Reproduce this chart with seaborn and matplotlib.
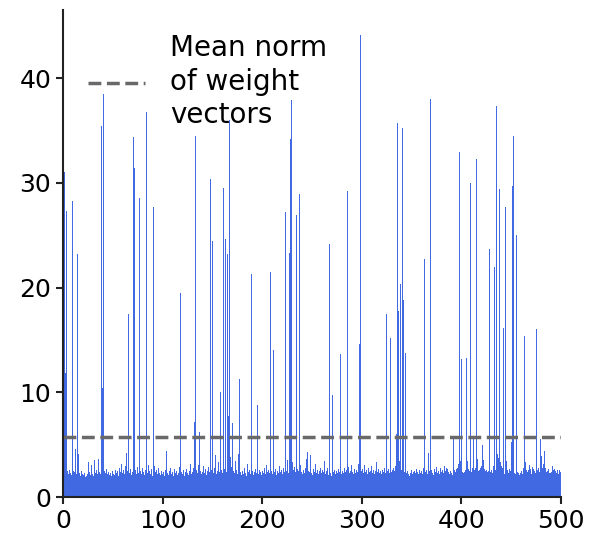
import numpy as np
import seaborn as sns
import matplotlib
matplotlib.use('Agg')
import matplotlib.pyplot as plt

# norm of each weight vector (500 units)
norms = [
    2.4, 31.0, 11.8, 27.3, 2.5, 2.2, 2.6, 2.3, 2.1, 28.3, 2.5, 2.4, 4.6, 2.2, 23.2, 4.1, 2.3, 2.0, 2.5, 2.2,
    2.1, 2.3, 1.9, 2.0, 2.2, 3.3, 2.4, 2.1, 3.1, 2.2, 2.0, 3.5, 2.3, 2.6, 2.2, 3.6, 2.4, 2.2, 35.4, 10.4,
    38.5, 2.5, 2.3, 2.7, 2.2, 2.4, 2.1, 2.3, 2.0, 2.5, 2.2, 2.1, 2.6, 2.3, 2.5, 2.0, 2.8, 2.4, 3.2, 2.3,
    2.6, 2.2, 3.0, 4.2, 2.5, 17.5, 2.3, 2.7, 2.1, 2.4, 34.4, 31.4, 2.6, 2.2, 2.9, 2.3, 28.6, 2.5, 2.2, 2.8,
    2.4, 2.1, 2.6, 36.8, 2.3, 3.1, 2.5, 2.2, 2.7, 2.0, 27.7, 3.0, 2.4, 2.6, 2.2, 2.8, 2.3, 2.1, 2.5, 2.2,
    2.4, 2.0, 2.6, 4.4, 2.3, 2.1, 2.5, 2.8, 2.2, 2.4, 2.0, 2.7, 2.3, 2.5, 2.1, 2.6, 2.3, 2.9, 19.5, 2.4,
    2.2, 2.6, 2.0, 2.4, 2.7, 2.3, 2.1, 2.5, 3.2, 2.2, 2.4, 2.8, 7.2, 34.5, 2.6, 2.3, 3.1, 6.2, 2.5, 2.2,
    2.4, 3.0, 2.3, 2.7, 2.1, 2.5, 2.9, 2.4, 30.4, 2.6, 24.5, 2.3, 2.8, 4.0, 2.2, 2.5, 3.3, 2.4, 10.0, 2.6,
    2.3, 29.5, 2.7, 24.6, 2.4, 23.2, 7.7, 36.0, 3.8, 2.9, 7.1, 2.5, 2.3, 3.4, 2.6, 2.2, 4.1, 11.3, 2.4, 2.1,
    2.5, 2.2, 2.8, 2.3, 2.0, 3.2, 2.4, 2.6, 2.2, 21.3, 2.5, 2.1, 2.4, 2.7, 2.3, 8.8, 2.2, 2.6, 2.4, 2.1,
    2.5, 2.3, 2.8, 2.2, 3.1, 2.4, 2.6, 2.3, 21.5, 2.5, 2.2, 14.0, 2.4, 2.7, 2.1, 2.5, 2.3, 3.0, 2.4, 2.6,
    2.2, 2.8, 2.4, 27.2, 2.5, 3.5, 2.3, 23.3, 34.2, 37.9, 3.3, 2.6, 2.9, 2.4, 26.9, 2.7, 2.5, 28.9, 3.1, 2.4,
    2.2, 2.6, 2.3, 2.8, 3.6, 4.3, 2.5, 2.4, 4.0, 2.3, 2.1, 2.7, 2.4, 3.2, 2.3, 2.6, 2.2, 2.5, 2.8, 2.3,
    2.6, 2.4, 3.4, 2.2, 2.5, 2.8, 2.1, 24.2, 2.3, 2.0, 9.7, 2.4, 2.6, 2.2, 2.5, 2.3, 2.7, 2.4, 13.7, 2.2,
    2.5, 2.3, 2.8, 2.4, 2.6, 29.2, 2.9, 2.3, 2.5, 3.1, 2.4, 2.2, 2.7, 2.3, 2.6, 2.4, 3.2, 14.6, 44.1, 2.5,
    2.7, 2.3, 3.1, 2.4, 2.6, 2.2, 2.8, 2.4, 2.5, 3.0, 2.3, 2.6, 2.2, 2.5, 3.3, 2.4, 2.7, 2.3, 2.5, 2.2,
    2.6, 2.4, 2.8, 2.3, 17.5, 2.5, 2.7, 2.3, 15.2, 2.4, 2.6, 2.8, 2.5, 3.0, 6.0, 35.7, 17.8, 3.4, 20.3, 2.6,
    35.2, 18.8, 2.4, 13.8, 2.3, 2.5, 2.2, 2.0, 2.3, 2.6, 2.2, 2.4, 2.1, 2.5, 2.3, 2.7, 2.4, 2.2, 2.6, 2.3,
    2.5, 2.2, 2.8, 22.7, 2.4, 2.6, 2.2, 4.2, 2.5, 38.0, 2.6, 2.3, 2.1, 2.7, 2.4, 2.9, 2.3, 2.5, 2.2, 2.8,
    2.4, 2.6, 2.3, 3.0, 2.5, 2.8, 2.7, 2.4, 2.2, 2.5, 2.3, 2.1, 5.5, 2.6, 2.4, 2.7, 2.8, 3.2, 33.0, 3.4,
    13.2, 2.4, 2.3, 2.4, 2.6, 13.3, 3.4, 2.7, 2.5, 30.0, 2.4, 2.8, 5.5, 2.6, 2.8, 32.3, 3.6, 2.5, 2.6, 2.8,
    3.0, 5.0, 3.5, 2.7, 2.5, 2.6, 2.4, 2.5, 23.7, 2.4, 2.6, 2.3, 3.0, 22.0, 2.6, 37.3, 4.1, 3.7, 29.4, 3.3,
    3.0, 2.8, 16.1, 2.2, 27.7, 3.4, 2.6, 2.3, 2.7, 2.5, 5.3, 29.7, 34.5, 2.3, 2.2, 25.0, 2.4, 2.3, 2.1, 2.3,
    2.5, 2.2, 2.8, 15.4, 3.3, 2.6, 2.4, 2.6, 3.1, 2.7, 2.2, 2.9, 2.7, 2.5, 2.3, 16.0, 2.6, 2.8, 2.4, 5.5,
    3.9, 2.8, 3.2, 4.4, 2.8, 2.4, 2.5, 2.7, 2.3, 2.3, 2.4, 3.0, 2.6, 2.7, 2.5, 2.3, 2.6, 2.2, 2.6, 2.4,
]
mean_norm = 5.73
x_ticks = [0, 100, 200, 300, 400, 500]
y_ticks = [0, 10, 20, 30, 40]

sns.set_style('ticks')
plt.rcParams['font.family'] = ['DejaVu Sans']
plt.rcParams['text.color'] = 'black'
plt.rcParams['xtick.color'] = '#222222'
plt.rcParams['ytick.color'] = '#222222'
plt.rcParams['xtick.labelcolor'] = 'black'
plt.rcParams['ytick.labelcolor'] = 'black'

fig = plt.figure(figsize=(5.97, 5.35), dpi=100)
ax = fig.add_axes([0.1055, 0.071, 0.834, 0.910])

ax.bar(np.arange(len(norms)), norms, width=1.0, align='edge',
       color='royalblue', edgecolor='none', linewidth=0)
ax.axhline(mean_norm, color='dimgray', linestyle='--', linewidth=2.5,
           label='Mean norm\nof weight\nvectors')

ax.set_xlim(0, 500)
ax.set_ylim(0, 46.5)
ax.set_xticks(x_ticks)
ax.set_yticks(y_ticks)
ax.tick_params(labelsize=18, length=5, width=1.5)
for s in ['left', 'bottom']:
    ax.spines[s].set_linewidth(1.5)
    ax.spines[s].set_color('#222222')
sns.despine(ax=ax)

leg = ax.legend(loc='upper left', bbox_to_anchor=(0.0, 1.002), frameon=False,
                fontsize=20, handlelength=2.05, handletextpad=0.9)
for t in leg.get_texts():
    t.set_linespacing(1.25)

fig.savefig('out.png', dpi=100)
